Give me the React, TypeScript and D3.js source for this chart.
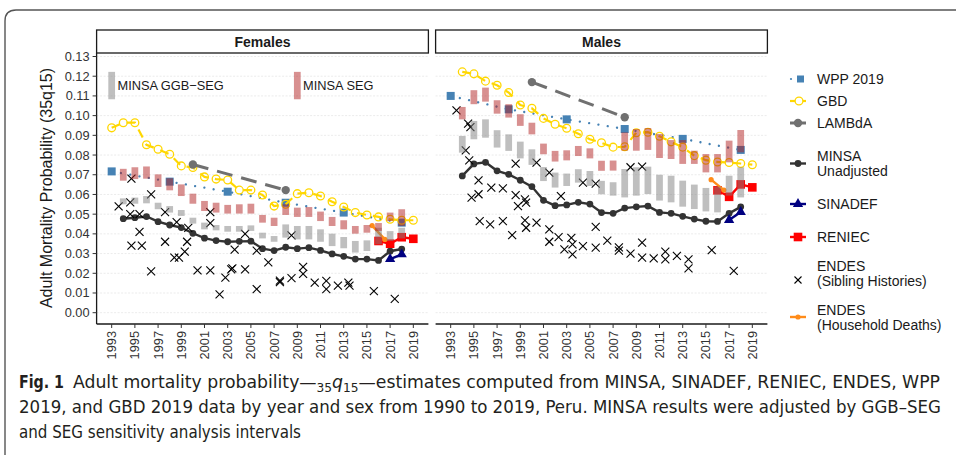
import React from 'react';
import * as d3 from 'd3';

// ---------- data ----------
const xTickYears = [1993, 1995, 1997, 1999, 2001, 2003, 2005, 2007, 2009, 2011, 2013, 2015, 2017, 2019];
const yTickValues = [0, 0.01, 0.02, 0.03, 0.04, 0.05, 0.06, 0.07, 0.08, 0.09, 0.1, 0.11, 0.12, 0.13];

const minsaYears = [1994, 1995, 1996, 1997, 1998, 1999, 2000, 2001, 2002, 2003, 2004, 2005, 2006,
  2007, 2008, 2009, 2010, 2011, 2012, 2013, 2014, 2015, 2016, 2017, 2018];

const femMinsa = [0.0477, 0.0482, 0.0488, 0.0462, 0.0445, 0.0432, 0.0403, 0.0378, 0.0366, 0.036, 0.0362, 0.0363,
  0.0325, 0.0315, 0.0332, 0.0325, 0.033, 0.0316, 0.0298, 0.0286, 0.0272, 0.0272, 0.0265, 0.0312, 0.0323];
const malMinsa = [0.0694, 0.0755, 0.0763, 0.072, 0.0702, 0.0672, 0.064, 0.057, 0.0543, 0.0547, 0.056, 0.0551,
  0.0508, 0.0504, 0.0531, 0.0537, 0.0541, 0.0509, 0.0504, 0.0489, 0.0475, 0.0464, 0.0463, 0.0504, 0.0537];

// MINSA GGB-SEG intervals
const femGgbLo = [0.055, 0.0553, 0.0555, 0.0525, 0.0508, 0.0491, 0.0452, 0.0423, 0.0418, 0.0411, 0.0411, 0.0415,
  0.0377, 0.036, 0.0381, 0.0372, 0.0372, 0.036, 0.0338, 0.0327, 0.0305, 0.0313, 0.0347, 0.0364, 0.0377];
const femGgbHi = [0.058, 0.0584, 0.0592, 0.0558, 0.0541, 0.0521, 0.0482, 0.0457, 0.0445, 0.044, 0.044, 0.0443,
  0.0406, 0.0389, 0.0448, 0.044, 0.044, 0.0423, 0.0401, 0.0384, 0.0364, 0.0367, 0.0431, 0.0414, 0.0431];
const malGgbLo = [0.0812, 0.088, 0.0888, 0.0838, 0.0821, 0.0783, 0.075, 0.0668, 0.0635, 0.0643, 0.066, 0.0643,
  0.0601, 0.0594, 0.0585, 0.0594, 0.0602, 0.0569, 0.056, 0.0538, 0.0526, 0.0514, 0.0509, 0.0594, 0.0585];
const malGgbHi = [0.0897, 0.0973, 0.0981, 0.0926, 0.0905, 0.0868, 0.0829, 0.0739, 0.0711, 0.0706, 0.0728, 0.0719,
  0.0669, 0.0662, 0.0729, 0.0738, 0.0741, 0.07, 0.0695, 0.067, 0.065, 0.0633, 0.064, 0.0695, 0.0738];

// MINSA SEG intervals
const femSegLo = [0.067, 0.0678, 0.068, 0.0638, 0.0621, 0.0592, 0.0553, 0.0516, 0.0508, 0.0503, 0.0503, 0.0503,
  0.0457, 0.044, 0.0496, 0.0486, 0.0486, 0.0465, 0.044, 0.0423, 0.0401, 0.0406, 0.0415, 0.0465, 0.044];
const femSegHi = [0.073, 0.0738, 0.0742, 0.0702, 0.0682, 0.0651, 0.0604, 0.0567, 0.0558, 0.0547, 0.055, 0.0553,
  0.0496, 0.0482, 0.055, 0.0533, 0.0536, 0.0513, 0.0486, 0.0469, 0.044, 0.0445, 0.0455, 0.0508, 0.0525];
const malSegLo = [0.0981, 0.1058, 0.1071, 0.101, 0.099, 0.0948, 0.0905, 0.0804, 0.0767, 0.0773, 0.0795, 0.0783,
  0.072, 0.0721, 0.0822, 0.0822, 0.0826, 0.0785, 0.078, 0.0755, 0.0755, 0.0712, 0.0712, 0.0763, 0.0814];
const malSegHi = [0.1044, 0.1129, 0.1142, 0.1078, 0.1058, 0.1007, 0.0964, 0.0858, 0.0821, 0.0824, 0.0846, 0.0834,
  0.0771, 0.0772, 0.0915, 0.0932, 0.0937, 0.0907, 0.0876, 0.0876, 0.0822, 0.0805, 0.0805, 0.0873, 0.0927];

const wppYears = [1993, 1998, 2003, 2008, 2013, 2018];
const femWpp = [0.0717, 0.0665, 0.0614, 0.0558, 0.0508, 0.0457];
const malWpp = [0.11, 0.1032, 0.0981, 0.0932, 0.0882, 0.0826];

const femGbdYears = [1993, 1994, 1995, 1996, 1997, 1998, 1999, 2000, 2001, 2002, 2003, 2004, 2005, 2006,
  2007, 2008, 2009, 2010, 2011, 2012, 2013, 2014, 2015, 2016, 2017, 2018, 2019];
const femGbd = [0.0938, 0.0964, 0.0964, 0.0852, 0.0829, 0.0804, 0.0745, 0.0737, 0.0689, 0.0678, 0.0673, 0.0622,
  0.0622, 0.0597, 0.0541, 0.055, 0.0604, 0.0609, 0.0592, 0.0563, 0.0536, 0.0508, 0.0496, 0.0486, 0.0474, 0.0469, 0.0469];
const malGbdYears = [1994, 1995, 1996, 1997, 1998, 1999, 2000, 2001, 2002, 2003, 2004, 2005, 2006,
  2007, 2008, 2009, 2010, 2011, 2012, 2013, 2014, 2015, 2016, 2017, 2018, 2019];
const malGbd = [0.1222, 0.1212, 0.1175, 0.1154, 0.1117, 0.1054, 0.1037, 0.0986, 0.0956, 0.0936, 0.0908, 0.088,
  0.0862, 0.084, 0.0842, 0.0913, 0.0916, 0.0895, 0.0867, 0.084, 0.0797, 0.0774, 0.0765, 0.0762, 0.0757, 0.0751];

const lambdaYears = [2000, 2008];
const femLambda = [0.0752, 0.0622];
const malLambda = [0.117, 0.0992];

const sinadefYears = [2017, 2018];
const femSinadef = [0.0272, 0.0296];
const malSinadef = [0.047, 0.0511];

const reniecYears = [2016, 2017, 2018, 2019];
const femReniec = [0.0364, 0.035, 0.0383, 0.0375];
const malReniec = [0.0621, 0.0588, 0.0651, 0.0636];

const hhYears = [2015.45, 2016.55];
const femHh = [0.0442, 0.0372];
const malHh = [0.0675, 0.0622];

// ENDES sibling histories
const femSibYears = [1993.6, 1994.6, 1994.7, 1994.6, 1995.4, 1996.4, 1995.4, 1994.7, 1995.6, 1996.4, 1997.6, 1997.6,
  1998.6, 1998.4, 1998.8, 1999.3, 1999.5, 1999.6, 2000.4, 2001.5, 2001.5, 2001.5, 2002.3, 2002.8, 2003.3, 2003.4,
  2003.6, 2004.5, 2004.5, 2005.5, 2005.5, 2006.5, 2007.5, 2007.5, 2008.5, 2008.5, 2009.5, 2009.5, 2010.5, 2011.5,
  2011.5, 2012.5, 2013.4, 2013.5, 2015.6, 2017.4];
const femSib = [0.054, 0.056, 0.068, 0.05, 0.05, 0.06, 0.041, 0.034, 0.034, 0.021, 0.051, 0.036,
  0.046, 0.028, 0.028, 0.031, 0.036, 0.043, 0.0215, 0.051, 0.0455, 0.0215, 0.0093, 0.0178, 0.022, 0.0225,
  0.032, 0.04, 0.022, 0.0315, 0.012, 0.0255, 0.0163, 0.0155, 0.0392, 0.0175, 0.0233, 0.0197, 0.0153, 0.0162,
  0.012, 0.0137, 0.0153, 0.0137, 0.011, 0.007];
const malSibYears = [1993.5, 1994.5, 1994.7, 1994.3, 1994.6, 1995.4, 1994.8, 1995.4, 1996.5, 1997.5, 1998.6, 1998.6,
  1998.8, 1999.4, 1999.5, 2000.4, 2001.5, 2002.5, 2004.4, 2005.5, 1995.5, 1996.4, 1997.5, 1998.3, 1999.4, 1999.5,
  2000.4, 2001.5, 2001.5, 2002.3, 2003.4, 2003.5, 2002.8, 2003.5, 2004.4, 2005.5, 2005.5, 2006.5, 2007.5, 2007.5,
  2008.5, 2008.5, 2009.5, 2009.5, 2009.5, 2010.5, 2011.5, 2011.5, 2012.5, 2013.5, 2013.5, 2015.5, 2017.4];
const malSib = [0.1027, 0.0959, 0.0942, 0.0824, 0.0773, 0.0672, 0.0584, 0.0601, 0.0635, 0.0631, 0.0756, 0.0597,
  0.0541, 0.0575, 0.0558, 0.0761, 0.0711, 0.0592, 0.066, 0.0655, 0.0465, 0.0448, 0.0465, 0.0394, 0.0469, 0.0431,
  0.0457, 0.0423, 0.036, 0.0384, 0.038, 0.0347, 0.0321, 0.0296, 0.0338, 0.033, 0.0435, 0.0366, 0.0332, 0.0315,
  0.03, 0.0738, 0.0741, 0.0356, 0.028, 0.0276, 0.031, 0.0271, 0.0288, 0.0271, 0.0225, 0.0318, 0.0212];

// ---------- look ----------
const FONT = "'Liberation Sans', Arial, Helvetica, sans-serif";
const NARROW = "'Liberation Sans Narrow', 'DejaVu Sans Condensed', 'Roboto Condensed', 'Liberation Sans', sans-serif";
const C = {
  wpp: '#4682b4',
  gbd: '#ffd700',
  lambda: '#707070',
  minsa: '#333333',
  sinadef: '#000080',
  reniec: '#ff0000',
  sib: '#000000',
  hh: '#ff8c1a',
  ggb: 'rgba(127,127,127,0.5)',
  seg: 'rgba(178,34,34,0.5)',
};

const PANEL_W = 331.8;
const PANEL_TOP = 53;
const PANEL_BOTTOM = 324;
const BAR_HALF = 0.29; // years

const y = d3.scaleLinear().domain([0, 0.13]).range([312.7, 56.5]);

type Pt = [number, number];
const zip = (xs: number[], vs: number[]): Pt[] => xs.map((v, i) => [v, vs[i]]);

interface PanelData {
  name: string;
  x0: number;
  minsa: number[];
  ggbLo: number[]; ggbHi: number[];
  segLo: number[]; segHi: number[];
  wpp: number[];
  gbdYears: number[]; gbd: number[];
  lambda: number[];
  sinadef: number[];
  reniec: number[];
  hh: number[];
  sibYears: number[]; sib: number[];
  showYAxis: boolean;
  annot: boolean;
}

const panels: PanelData[] = [
  { name: 'Females', x0: 96.6, minsa: femMinsa, ggbLo: femGgbLo, ggbHi: femGgbHi, segLo: femSegLo, segHi: femSegHi,
    wpp: femWpp, gbdYears: femGbdYears, gbd: femGbd, lambda: femLambda, sinadef: femSinadef, reniec: femReniec,
    hh: femHh, sibYears: femSibYears, sib: femSib, showYAxis: true, annot: true },
  { name: 'Males', x0: 435.6, minsa: malMinsa, ggbLo: malGgbLo, ggbHi: malGgbHi, segLo: malSegLo, segHi: malSegHi,
    wpp: malWpp, gbdYears: malGbdYears, gbd: malGbd, lambda: malLambda, sinadef: malSinadef, reniec: malReniec,
    hh: malHh, sibYears: malSibYears, sib: malSib, showYAxis: false, annot: false },
];

const triangle = d3.symbol().type(d3.symbolTriangle).size(46)() || '';

const Cross = ({ cx, cy, s = 4 }: { cx: number; cy: number; s?: number }) => (
  <g stroke={C.sib} strokeWidth={1.1}>
    <line x1={cx - s} y1={cy - s} x2={cx + s} y2={cy + s} />
    <line x1={cx - s} y1={cy + s} x2={cx + s} y2={cy - s} />
  </g>
);

function Panel({ p }: { p: PanelData }) {
  const x = d3.scaleLinear().domain([1991.7, 2020.3]).range([p.x0, p.x0 + PANEL_W]);
  const line = d3.line<Pt>().x(d => x(d[0])).y(d => y(d[1]));
  const bw = x(1994 + BAR_HALF) - x(1994 - BAR_HALF);

  return (
    <g>
      {/* strip */}
      <rect x={p.x0} y={30} width={PANEL_W} height={PANEL_TOP - 30} fill="#fff" stroke="#1a1a1a" strokeWidth={1.3} />
      <text x={p.x0 + PANEL_W / 2} y={42} textAnchor="middle" dominantBaseline="central"
        fontFamily={FONT} fontSize={14} fontWeight="bold" fill="#1a1a1a">{p.name}</text>

      {/* grid */}
      {yTickValues.map(v => (
        <line key={v} x1={p.x0} x2={p.x0 + PANEL_W} y1={y(v)} y2={y(v)} stroke="#e6e6e6" strokeWidth={0.8} strokeDasharray="2,1.5" />
      ))}

      {/* in-panel legend for interval bars */}
      {p.annot && (
        <g>
          <rect x={x(1993) - bw / 2} y={y(0.1222)} width={bw} height={y(0.1083) - y(0.1222)} fill={C.ggb} />
          <text x={x(1993.5)} y={y(0.1152)} dominantBaseline="central" fontFamily={FONT} fontSize={12.8} fill="#1a1a1a">MINSA GGB−SEG</text>
          <rect x={x(2009) - bw / 2} y={y(0.1222)} width={bw} height={y(0.1083) - y(0.1222)} fill={C.seg} />
          <text x={x(2009.5)} y={y(0.1152)} dominantBaseline="central" fontFamily={FONT} fontSize={12.8} fill="#1a1a1a">MINSA SEG</text>
        </g>
      )}

      {/* WPP */}
      <path d={line(zip(wppYears, p.wpp)) || ''} fill="none" stroke={C.wpp} strokeWidth={2.3}
        strokeDasharray="0.01,9.4" strokeLinecap="round" />
      {wppYears.map((yr, i) => (
        <rect key={yr} x={x(yr) - 4} y={y(p.wpp[i]) - 4} width={8} height={8} fill={C.wpp} />
      ))}

      {/* GBD */}
      <path d={line(zip(p.gbdYears, p.gbd)) || ''} fill="none" stroke={C.gbd} strokeWidth={2.2} strokeDasharray="9,7" />
      {p.gbdYears.map((yr, i) => (
        <circle key={yr} cx={x(yr)} cy={y(p.gbd[i])} r={3.9} fill="none" stroke={C.gbd} strokeWidth={1.3} />
      ))}

      {/* LAMBdA */}
      <path d={line(zip(lambdaYears, p.lambda)) || ''} fill="none" stroke={C.lambda} strokeWidth={3} strokeDasharray="16,9" />
      {lambdaYears.map((yr, i) => (
        <circle key={yr} cx={x(yr)} cy={y(p.lambda[i])} r={4.2} fill={C.lambda} />
      ))}

      {/* MINSA unadjusted */}
      <path d={line(zip(minsaYears, p.minsa)) || ''} fill="none" stroke={C.minsa} strokeWidth={2.4} />
      {minsaYears.map((yr, i) => (
        <circle key={yr} cx={x(yr)} cy={y(p.minsa[i])} r={3.4} fill={C.minsa} />
      ))}

      {/* SINADEF */}
      <path d={line(zip(sinadefYears, p.sinadef)) || ''} fill="none" stroke={C.sinadef} strokeWidth={2.4} />
      {sinadefYears.map((yr, i) => (
        <path key={yr} d={triangle} transform={`translate(${x(yr)},${y(p.sinadef[i])})`} fill={C.sinadef} />
      ))}

      {/* RENIEC */}
      <path d={line(zip(reniecYears, p.reniec)) || ''} fill="none" stroke={C.reniec} strokeWidth={2.4} />
      {reniecYears.map((yr, i) => (
        <rect key={yr} x={x(yr) - 4.3} y={y(p.reniec[i]) - 4.3} width={8.6} height={8.6} fill={C.reniec} />
      ))}

      {/* ENDES sibling histories */}
      {p.sibYears.map((yr, i) => (
        <Cross key={i} cx={x(yr)} cy={y(p.sib[i])} />
      ))}

      {/* ENDES household deaths */}
      <path d={line(zip(hhYears, p.hh)) || ''} fill="none" stroke={C.hh} strokeWidth={2.4} />
      {hhYears.map((yr, i) => (
        <circle key={yr} cx={x(yr)} cy={y(p.hh[i])} r={2.6} fill={C.hh} />
      ))}

      {/* MINSA adjusted intervals */}
      {minsaYears.map((yr, i) => (
        <g key={yr}>
          <rect x={x(yr) - bw / 2} y={y(p.ggbHi[i])} width={bw} height={y(p.ggbLo[i]) - y(p.ggbHi[i])} fill={C.ggb} />
          <rect x={x(yr) - bw / 2} y={y(p.segHi[i])} width={bw} height={y(p.segLo[i]) - y(p.segHi[i])} fill={C.seg} />
        </g>
      ))}

      {/* axes */}
      <line x1={p.x0} x2={p.x0 + PANEL_W} y1={PANEL_BOTTOM} y2={PANEL_BOTTOM} stroke="#1a1a1a" strokeWidth={1.3} />
      {xTickYears.map(yr => (
        <g key={yr}>
          <line x1={x(yr)} x2={x(yr)} y1={PANEL_BOTTOM} y2={PANEL_BOTTOM + 4} stroke="#333" strokeWidth={1} />
          <text transform={`translate(${x(yr)},${PANEL_BOTTOM + 7}) rotate(-90)`} textAnchor="end" dominantBaseline="central"
            fontFamily={FONT} fontSize={12.8} fill="#333">{yr}</text>
        </g>
      ))}
      {p.showYAxis && (
        <g>
          <line x1={p.x0} x2={p.x0} y1={PANEL_TOP} y2={PANEL_BOTTOM} stroke="#1a1a1a" strokeWidth={1.3} />
          {yTickValues.map(v => (
            <g key={v}>
              <line x1={p.x0 - 4} x2={p.x0} y1={y(v)} y2={y(v)} stroke="#333" strokeWidth={1} />
              <text x={p.x0 - 7} y={y(v)} textAnchor="end" dominantBaseline="central" fontFamily={FONT} fontSize={12.8} fill="#333">
                {d3.format('.2f')(v)}
              </text>
            </g>
          ))}
        </g>
      )}
    </g>
  );
}

function Legend() {
  const kx = 798;
  const tx = 817;
  const seg = (cy: number, color: string, w = 2.4, dash?: string) => (
    <line x1={790} x2={806} y1={cy} y2={cy} stroke={color} strokeWidth={w} strokeDasharray={dash} />
  );
  const label = (lines: string[], cy: number) => (
    <text fontFamily={FONT} fontSize={14} fill="#1a1a1a">
      {lines.map((t, i) => (
        <tspan key={i} x={tx} y={cy + (i - (lines.length - 1) / 2) * 15 + 5}>{t}</tspan>
      ))}
    </text>
  );
  return (
    <g>
      <circle cx={791} cy={79} r={1.1} fill={C.wpp} />
      <rect x={797} y={75.5} width={7} height={7} fill={C.wpp} />
      {label(['WPP 2019'], 79)}

      {seg(101, C.gbd, 2.2)}
      <circle cx={kx + 1} cy={101} r={3.9} fill="#fff" stroke={C.gbd} strokeWidth={1.3} />
      {label(['GBD'], 101)}

      {seg(123, C.lambda, 3)}
      <circle cx={kx} cy={123} r={4.2} fill={C.lambda} />
      {label(['LAMBdA'], 123)}

      {seg(163.5, C.minsa)}
      <circle cx={kx} cy={163.5} r={3.4} fill={C.minsa} />
      {label(['MINSA', 'Unadjusted'], 163.5)}

      {seg(204, C.sinadef)}
      <path d={triangle} transform={`translate(${kx},${204})`} fill={C.sinadef} />
      {label(['SINADEF'], 204)}

      {seg(237, C.reniec)}
      <rect x={kx - 4.3} y={237 - 4.3} width={8.6} height={8.6} fill={C.reniec} />
      {label(['RENIEC'], 237)}

      <Cross cx={kx} cy={280} s={3.5} />
      {label(['ENDES', '(Sibling Histories)'], 273)}

      {seg(317, C.hh)}
      <circle cx={kx} cy={317} r={2.6} fill={C.hh} />
      {label(['ENDES', '(Household Deaths)'], 317)}
    </g>
  );
}

export default function App() {
  return (
    <svg width={956} height={455} viewBox="0 0 956 455"
      style={{ position: 'absolute', left: 0, top: 0, background: '#fff' }}>
      <rect x={0} y={0} width={956} height={455} fill="#fff" />
      {/* figure frame */}
      <path d="M5,455 V21 Q5,10 16,10 H956" fill="none" stroke="#555" strokeWidth={1.4} />

      {panels.map(p => <Panel key={p.name} p={p} />)}

      <text transform="translate(46,188) rotate(-90)" textAnchor="middle" dominantBaseline="central"
        fontFamily={FONT} fontSize={16} fill="#1a1a1a">Adult Mortality Probability (35q15)</text>

      <Legend />

      {/* caption */}
      <g fontFamily={NARROW} fontSize={17} fill="#231f20">
        <text x={19} y={388} fontWeight="bold" textLength={45} lengthAdjust="spacingAndGlyphs">Fig. 1</text>
        <text x={73} y={388} textLength={867} lengthAdjust="spacingAndGlyphs">
          Adult mortality probability—<tspan fontSize={12} dy={4}>35</tspan>
          <tspan fontStyle="italic" dy={-4}>q</tspan>
          <tspan fontSize={12} dy={4}>15</tspan>
          <tspan dy={-4}>—estimates computed from MINSA, SINADEF, RENIEC, ENDES, WPP</tspan>
        </text>
        <text x={19} y={413} textLength={922} lengthAdjust="spacingAndGlyphs">
          2019, and GBD 2019 data by year and sex from 1990 to 2019, Peru. MINSA results were adjusted by GGB–SEG
        </text>
        <text x={19} y={438} textLength={282} lengthAdjust="spacingAndGlyphs">and SEG sensitivity analysis intervals</text>
      </g>
    </svg>
  );
}
